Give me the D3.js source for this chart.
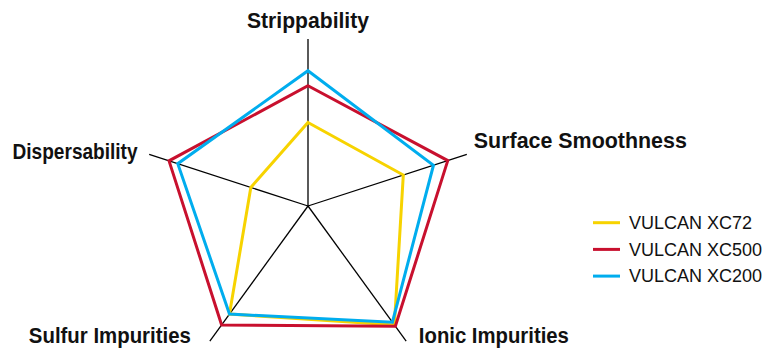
<!DOCTYPE html>
<html>
<head>
<meta charset="utf-8">
<script src="https://cdn.jsdelivr.net/npm/d3@7"></script>
<style>
  body { margin: 0; background: #fff; }
  svg { display: block; font-family: "Liberation Sans", Arial, Helvetica, sans-serif; }
</style>
</head>
<body>
<svg id="chart" viewBox="0 0 763 348" width="763" height="348"></svg>
<script>
// axes, clockwise from the top
const axes = ["Strippability", "Surface Smoothness", "Ionic Impurities", "Sulfur Impurities", "Dispersability"];

// series values (fraction of full scale), same order as axes
const series = ["VULCAN XC72", "VULCAN XC500", "VULCAN XC200"];
const xc72 = [0.50, 0.60, 0.88, 0.80, 0.36];
const xc500 = [0.72, 0.88, 0.89, 0.88, 0.875];
const xc200 = [0.81, 0.79, 0.86, 0.80, 0.82];
const colors = ["#F7D300", "#C8102E", "#00ADEE"];

const svg = d3.select("#chart");
const cx = 308, cy = 206;

const r = d3.scaleLinear().domain([0, 1]).range([0, 167]);
const angle = d3.scaleLinear().domain([0, axes.length]).range([-Math.PI / 2, 1.5 * Math.PI]);

function point(i, v) {
  const a = angle(i);
  return [cx + r(v) * Math.cos(a), cy + r(v) * Math.sin(a)];
}

// axis lines
svg.append("g")
  .attr("stroke", "#000")
  .attr("stroke-width", 1.3)
  .selectAll("line")
  .data(axes)
  .enter()
  .append("line")
  .attr("x1", cx)
  .attr("y1", cy)
  .attr("x2", (d, i) => point(i, 1)[0])
  .attr("y2", (d, i) => point(i, 1)[1]);

// series polygons
const lineGen = d3.line().curve(d3.curveLinearClosed);
const data = [xc72, xc500, xc200];
svg.append("g")
  .selectAll("path")
  .data(data)
  .enter()
  .append("path")
  .attr("d", (vals) => lineGen(vals.map((v, i) => point(i, v))))
  .attr("fill", "none")
  .attr("stroke", (d, i) => colors[i])
  .attr("stroke-width", 3)
  .attr("stroke-linejoin", "miter");

// axis labels: offset from the end of each axis, width fitted to the reference
const labelOffsets = [
  { dx: 0, dy: -10.7, anchor: "middle", w: 122 },
  { dx: 7, dy: -6, anchor: "start", w: 213 },
  { dx: 12.7, dy: 2.3, anchor: "start", w: 150 },
  { dx: -19, dy: 2.3, anchor: "end", w: 162 },
  { dx: -11.6, dy: 5, anchor: "end", w: 125 }
];
svg.append("g")
  .selectAll("text")
  .data(axes)
  .enter()
  .append("text")
  .attr("x", (d, i) => point(i, 1)[0] + labelOffsets[i].dx)
  .attr("y", (d, i) => point(i, 1)[1] + labelOffsets[i].dy)
  .attr("text-anchor", (d, i) => labelOffsets[i].anchor)
  .attr("font-size", "21.5px")
  .attr("font-weight", "bold")
  .attr("textLength", (d, i) => labelOffsets[i].w)
  .attr("lengthAdjust", "spacingAndGlyphs")
  .attr("fill", "#111")
  .text((d) => d);

// legend
const legend = svg.append("g").attr("transform", "translate(593, 229)")
  .selectAll("g")
  .data(series)
  .enter()
  .append("g")
  .attr("transform", (d, i) => `translate(0, ${i * 26.7})`);

legend.append("line")
  .attr("x1", 0)
  .attr("x2", 27)
  .attr("y1", -6.3)
  .attr("y2", -6.3)
  .attr("stroke", (d, i) => colors[i])
  .attr("stroke-width", 3);

legend.append("text")
  .attr("x", 36)
  .attr("y", 0)
  .attr("font-size", "18px")
  .attr("fill", "#111")
  .text((d) => d);
</script>
</body>
</html>
